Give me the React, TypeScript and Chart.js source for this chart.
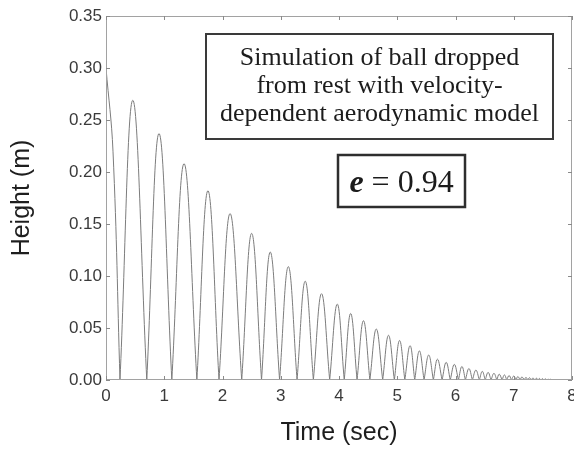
import React, { useEffect, useRef } from 'react';
import { Chart, registerables } from 'chart.js';

Chart.register(...registerables);

// Initial drop from rest (time s, height m)
const dropTimes = [0, 0.12];
const dropHeights = [0.30, 0.22];

// Ground contact times (s)
const impactTimes = [
  0.24, 0.70, 1.13, 1.56, 1.94, 2.33, 2.67, 2.98, 3.28, 3.56, 3.84,
  4.09, 4.31, 4.53, 4.75, 4.95, 5.13, 5.30, 5.46, 5.62, 5.77, 5.91,
  6.05, 6.17, 6.29, 6.41, 6.51, 6.61, 6.71, 6.80, 6.88, 6.96, 7.04,
  7.11, 7.18, 7.24, 7.30, 7.36, 7.42, 7.47, 7.52, 7.57, 7.61, 7.66,
];

// Apex of each bounce: time (s) and height (m)
const peakTimes = [
  0.46, 0.91, 1.34, 1.75, 2.13, 2.50, 2.82, 3.13, 3.42, 3.70, 3.97,
  4.20, 4.42, 4.64, 4.85, 5.04, 5.22, 5.38, 5.54, 5.69, 5.84, 5.98,
  6.11, 6.23, 6.35, 6.46, 6.56, 6.66, 6.75, 6.84, 6.92, 7.00, 7.07,
  7.14, 7.21, 7.27, 7.33, 7.39, 7.44, 7.49, 7.54, 7.59, 7.63,
];
const peakHeights = [
  0.269, 0.237, 0.208, 0.182, 0.160, 0.141, 0.123, 0.109, 0.095, 0.083, 0.073,
  0.064, 0.057, 0.049, 0.043, 0.038, 0.033, 0.028, 0.024, 0.020, 0.017, 0.015,
  0.013, 0.011, 0.0095, 0.0083, 0.0073, 0.0064, 0.0056, 0.0049, 0.0043, 0.0038, 0.0033,
  0.0029, 0.0025, 0.0022, 0.0019, 0.0017, 0.0015, 0.0013, 0.0011, 0.0009, 0.0007,
];

const xTicks = [0, 1, 2, 3, 4, 5, 6, 7, 8];
const yTicks = [0, 0.05, 0.10, 0.15, 0.20, 0.25, 0.30, 0.35];

const noteLines = ['Simulation of ball dropped', 'from rest with velocity-', 'dependent aerodynamic model'];
const coefSymbol = 'e';
const coefValue = '0.94';

const SANS = "'Liberation Sans', Arial, sans-serif";
const SERIF = "'Liberation Serif', 'Times New Roman', serif";

function buildPoints() {
  const pts: { x: number; y: number | null }[] = [];
  dropTimes.forEach((t, i) => pts.push({ x: t, y: dropHeights[i] }));
  pts.push({ x: impactTimes[0], y: 0 });
  pts.push({ x: impactTimes[0], y: null });
  peakTimes.forEach((tp, k) => {
    pts.push({ x: impactTimes[k], y: 0 });
    pts.push({ x: tp, y: peakHeights[k] });
    pts.push({ x: impactTimes[k + 1], y: 0 });
    pts.push({ x: impactTimes[k + 1], y: null });
  });
  return pts;
}

const framePlugin = {
  id: 'frameAndNotes',
  afterDraw(chart: any) {
    const { ctx, chartArea: a, scales } = chart;
    const xs = scales.x;
    const ys = scales.y;
    ctx.save();
    // frame
    ctx.strokeStyle = '#a2a2a2';
    ctx.lineWidth = 1;
    ctx.strokeRect(a.left + 0.5, a.top + 0.5, a.right - a.left - 1, a.bottom - a.top - 1);
    // inward ticks
    ctx.strokeStyle = '#8a8a8a';
    ctx.beginPath();
    xTicks.forEach((v) => {
      const px = Math.round(xs.getPixelForValue(v)) + 0.5;
      ctx.moveTo(px, a.bottom);
      ctx.lineTo(px, a.bottom - 4);
      ctx.moveTo(px, a.top);
      ctx.lineTo(px, a.top + 4);
    });
    yTicks.forEach((v) => {
      const py = Math.round(ys.getPixelForValue(v)) + 0.5;
      ctx.moveTo(a.left, py);
      ctx.lineTo(a.left + 4, py);
      ctx.moveTo(a.right, py);
      ctx.lineTo(a.right - 4, py);
    });
    ctx.stroke();

    // note box 1
    const b1 = { x: a.left + 100, y: a.top + 18, w: 347, h: 105 };
    ctx.fillStyle = '#ffffff';
    ctx.fillRect(b1.x, b1.y, b1.w, b1.h);
    ctx.strokeStyle = '#3a3a3a';
    ctx.lineWidth = 2;
    ctx.strokeRect(b1.x, b1.y, b1.w, b1.h);
    ctx.fillStyle = '#1c1c1c';
    ctx.font = `26px ${SERIF}`;
    ctx.textAlign = 'center';
    ctx.textBaseline = 'alphabetic';
    noteLines.forEach((line, i) => {
      ctx.fillText(line, b1.x + b1.w / 2, b1.y + 31 + i * 28);
    });

    // note box 2
    const b2 = { x: a.left + 232, y: a.top + 139, w: 127, h: 52 };
    ctx.fillStyle = '#ffffff';
    ctx.fillRect(b2.x, b2.y, b2.w, b2.h);
    ctx.strokeStyle = '#2e2e2e';
    ctx.lineWidth = 2.5;
    ctx.strokeRect(b2.x, b2.y, b2.w, b2.h);
    ctx.fillStyle = '#1c1c1c';
    const italic = `italic bold 32px ${SERIF}`;
    const normal = `32px ${SERIF}`;
    const rest = ` = ${coefValue}`;
    ctx.font = italic;
    const w1 = ctx.measureText(coefSymbol).width;
    ctx.font = normal;
    const w2 = ctx.measureText(rest).width;
    const startX = b2.x + b2.w / 2 - (w1 + w2) / 2;
    const baseY = b2.y + 37;
    ctx.textAlign = 'left';
    ctx.font = italic;
    ctx.fillText(coefSymbol, startX, baseY);
    ctx.font = normal;
    ctx.fillText(rest, startX + w1, baseY);
    ctx.restore();
  },
};

export default function App() {
  const ref = useRef<HTMLCanvasElement | null>(null);
  useEffect(() => {
    document.body.style.margin = '0';
    const canvas = ref.current;
    if (!canvas) return;
    const chart = new Chart(canvas, {
      type: 'line',
      data: {
        datasets: [
          {
            data: buildPoints() as any,
            borderColor: '#7c7c7c',
            borderWidth: 1,
            pointRadius: 0,
            tension: 0.4,
            spanGaps: false,
            fill: false,
          },
        ],
      },
      options: {
        animation: false,
        responsive: false,
        devicePixelRatio: 1,
        layout: { padding: { left: 0, right: 2, top: 16, bottom: 0 } },
        plugins: { legend: { display: false }, tooltip: { enabled: false } },
        scales: {
          x: {
            type: 'linear',
            min: 0,
            max: 8,
            grid: { display: false, drawTicks: false, tickLength: 0 },
            border: { display: false },
            afterBuildTicks: (s: any) => {
              s.ticks = xTicks.map((v) => ({ value: v }));
            },
            afterFit: (s: any) => {
              s.height = 70;
              s.paddingLeft = 0;
              s.paddingRight = 0;
            },
            ticks: {
              autoSkip: false,
              maxRotation: 0,
              padding: 6,
              color: '#3a3a3a',
              font: { family: SANS, size: 17 },
              callback: (v: any) => String(v),
            },
            title: {
              display: true,
              text: 'Time (sec)',
              color: '#1e1e1e',
              font: { family: SANS, size: 25 },
              padding: { top: 0, bottom: 2 },
            },
          },
          y: {
            type: 'linear',
            min: 0,
            max: 0.35,
            grid: { display: false, drawTicks: false, tickLength: 0 },
            border: { display: false },
            afterBuildTicks: (s: any) => {
              s.ticks = yTicks.map((v) => ({ value: v }));
            },
            afterFit: (s: any) => {
              s.width = 106;
            },
            ticks: {
              autoSkip: false,
              padding: 4,
              color: '#3a3a3a',
              font: { family: SANS, size: 17 },
              callback: (v: any) => Number(v).toFixed(2),
            },
            title: {
              display: true,
              text: 'Height (m)',
              color: '#1e1e1e',
              font: { family: SANS, size: 25 },
              padding: { top: 7, bottom: 0 },
            },
          },
        },
      },
      plugins: [framePlugin],
    });
    return () => chart.destroy();
  }, []);
  return (
    <div style={{ width: 574, height: 450 }}>
      <canvas ref={ref} width={574} height={450} style={{ display: 'block' }} />
    </div>
  );
}
